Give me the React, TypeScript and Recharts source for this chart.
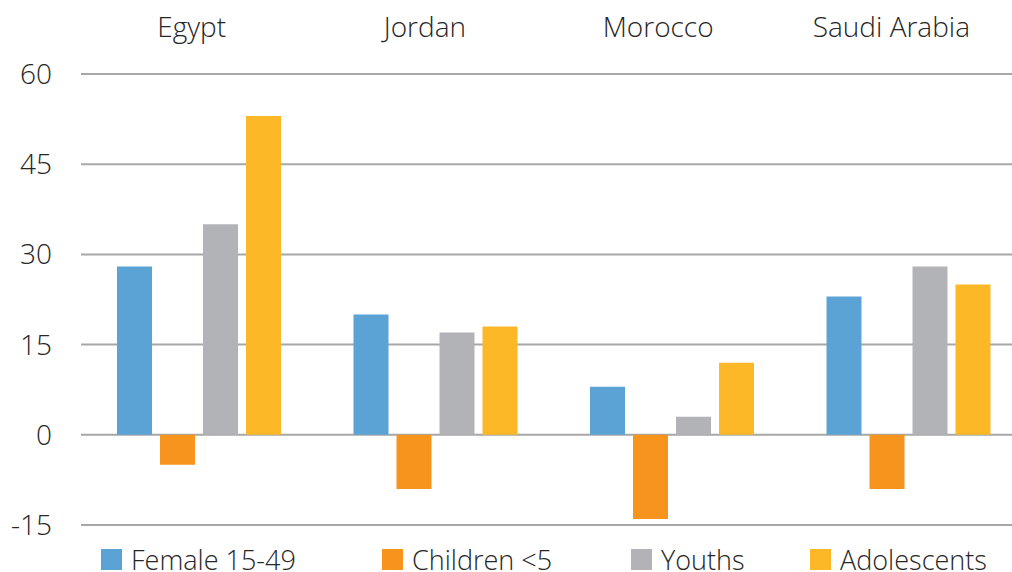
import React from 'react';
import { BarChart, Bar, XAxis, YAxis, CartesianGrid } from 'recharts';

const countries = ['Egypt', 'Jordan', 'Morocco', 'Saudi Arabia'];
const female1549 = [28, 20, 8, 23];
const childrenUnder5 = [-5, -9, -14, -9];
const youths = [35, 17, 3, 28];
const adolescents = [53, 18, 12, 25];
const yTicks = [-15, 0, 15, 30, 45, 60];

const series = [
  { key: 'female', name: 'Female 15-49', color: '#5BA3D5', values: female1549 },
  { key: 'children', name: 'Children <5', color: '#F7941E', values: childrenUnder5 },
  { key: 'youths', name: 'Youths', color: '#B1B3B6', values: youths },
  { key: 'adolescents', name: 'Adolescents', color: '#FDB827', values: adolescents },
];

const data = countries.map((country, i) => {
  const row: Record<string, string | number> = { country };
  series.forEach((s) => {
    row[s.key] = s.values[i];
  });
  return row;
});

const FONT = '"Open Sans", Lato, sans-serif';
const TEXT = '#262626';
const tickStyle = { fontSize: 28, fill: TEXT, fontFamily: FONT, fontWeight: 300 };

// left offsets of each legend entry
const legendLeft = [101, 382, 631, 810];

export default function App() {
  return (
    <div style={{ position: 'fixed', left: 0, top: 0, width: 1012, height: 572, overflow: 'hidden', background: '#fff', fontFamily: FONT }}>
      <BarChart
        width={1040}
        height={572}
        data={data}
        barSize={35}
        barGap={8}
        margin={{ top: 0, right: 13, left: 0, bottom: 47 }}
      >
        <CartesianGrid vertical={false} stroke="#A7A7A7" strokeWidth={2} />
        {/* bars sit on this band axis */}
        <XAxis dataKey="country" orientation="top" height={0} hide />
        {/* category titles run on a slightly narrower band layout */}
        <XAxis
          xAxisId="titles"
          dataKey="country"
          orientation="top"
          height={74}
          padding={{ left: -6, right: 19 }}
          axisLine={false}
          tickLine={false}
          tickSize={0}
          tickMargin={37}
          tick={tickStyle}
        />
        <YAxis
          domain={[-15, 60]}
          ticks={yTicks}
          width={81}
          axisLine={false}
          tickLine={false}
          tickSize={0}
          tickMargin={29}
          interval={0}
          tick={tickStyle}
        />
        {series.map((s) => (
          <Bar key={s.key} dataKey={s.key} name={s.name} fill={s.color} isAnimationActive={false} />
        ))}
      </BarChart>
      {series.map((s, i) => (
        <div
          key={s.key}
          style={{
            position: 'absolute',
            left: legendLeft[i],
            top: 546,
            height: 27,
            display: 'flex',
            alignItems: 'center',
            fontSize: 27,
            fontWeight: 300,
            color: TEXT,
            lineHeight: '27px',
            whiteSpace: 'nowrap',
          }}
        >
          <span style={{ width: 21, height: 21, background: s.color, display: 'inline-block', marginRight: 9, flexShrink: 0 }} />
          {s.name}
        </div>
      ))}
    </div>
  );
}
